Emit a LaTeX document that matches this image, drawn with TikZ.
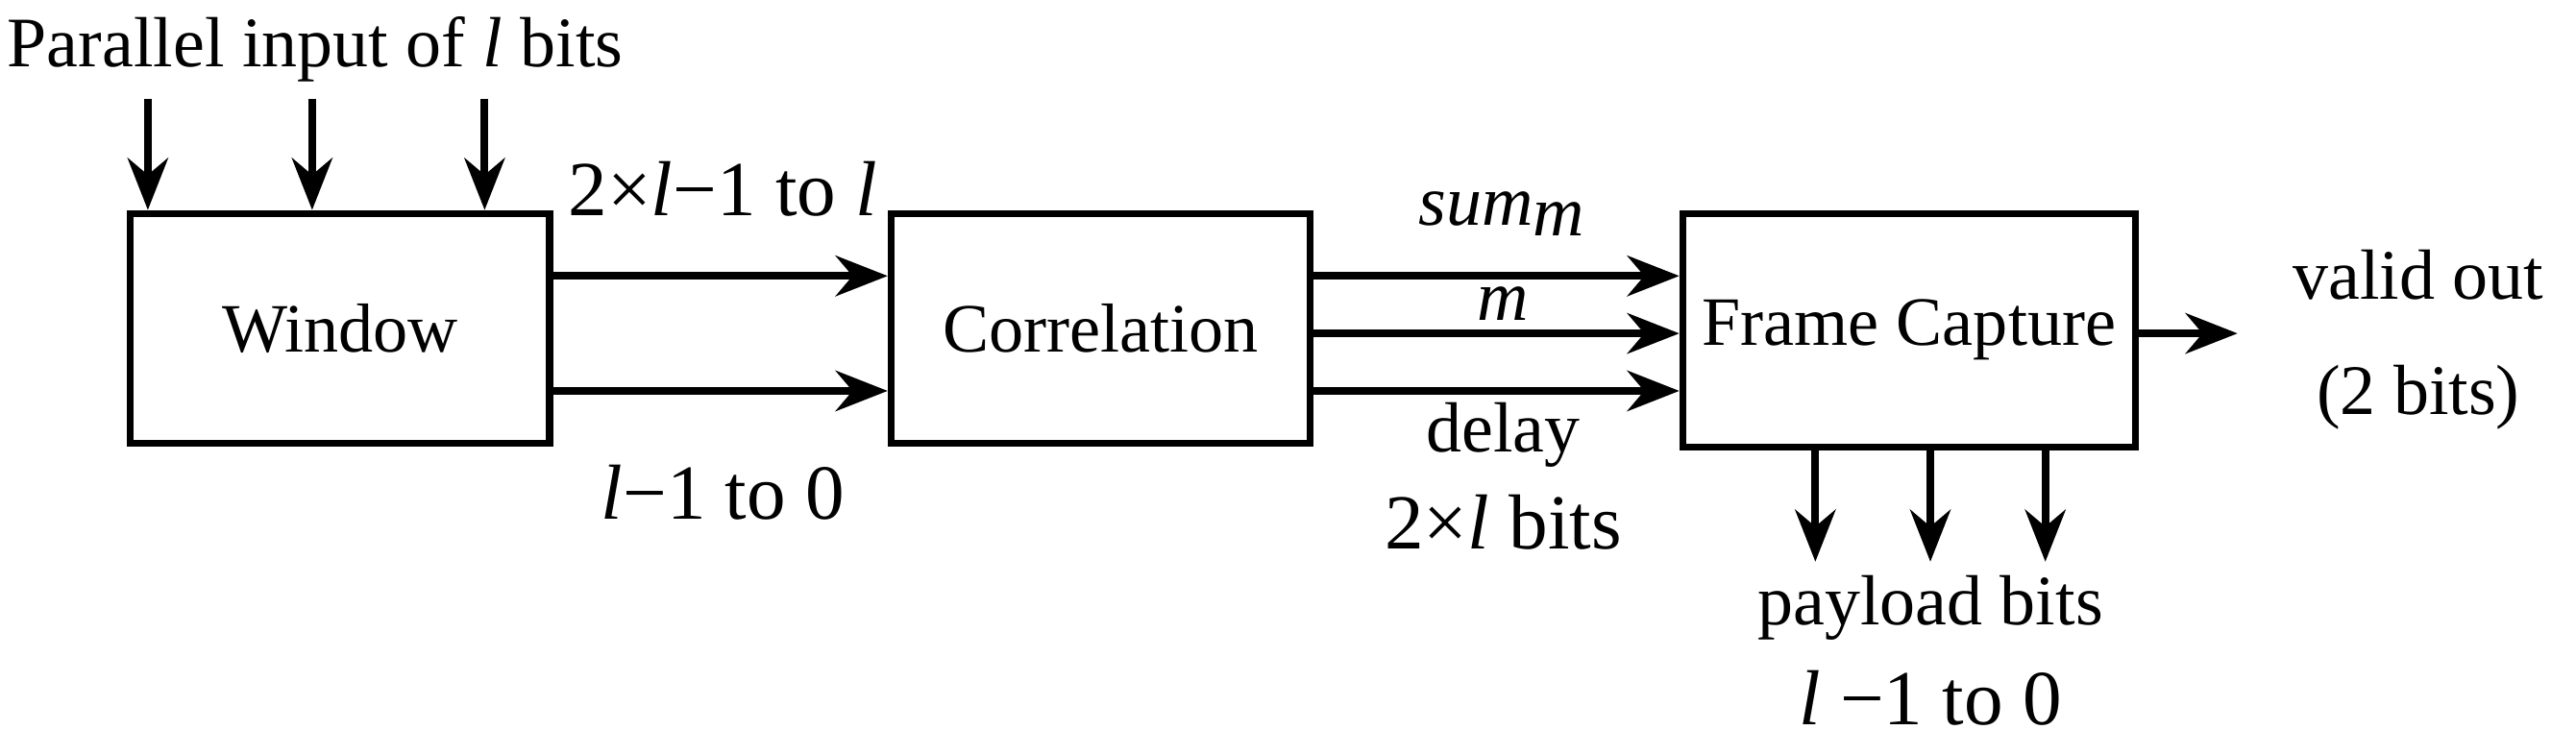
\documentclass[tikz,border=0pt]{standalone}
\usepackage{fontspec}
\setmainfont{Liberation Serif}
\usetikzlibrary{arrows.meta}
\begin{document}
\begin{tikzpicture}[x=0.01cm,y=-0.01cm,
  blk/.style={draw,line width=1.2pt,minimum width=2.55cm,minimum height=1.4cm,font=\fontsize{12}{14}\selectfont},
  arr/.style={-{Stealth[length=9pt,width=7pt]},line width=1.3pt},
  lbl/.style={font=\fontsize{13.5}{16}\selectfont,inner sep=0},
  sml/.style={font=\fontsize{12.3}{14}\selectfont,inner sep=0}]
\useasboundingbox (0,0) rectangle (1568,444);
\node[blk] (w) at (207,200) {Window};
\node[blk] (c) at (670,200) {Correlation};
\node[blk,minimum height=1.42cm] (f) at (1162,201) {Frame Capture};
\node[sml] (t) at (192,30) {Parallel input of \textit{l} bits};
\foreach \x/\n in {90/a,190/b,295/c}{\coordinate (i\n) at (\x,60);
  \draw[arr] (i\n) -- (i\n |- w.north);}
\draw[arr] (w.east |- 0,168) -- (c.west |- 0,168);
\draw[arr] (w.east |- 0,238) -- (c.west |- 0,238);
\node[lbl] (l1) at (440,115) {2×\textit{l}−1 to \textit{l}};
\node[lbl] (l2) at (440,300) {\textit{l}−1 to 0};
\foreach \y in {168,203,238}{\draw[arr] (c.east |- 0,\y) -- (f.west |- 0,\y);}
\node[sml] (s) at (915,130) {\textit{sum}$_{\textit{m}}$};
\node[sml] (m) at (915,185) {\textit{m}};
\node[sml] (d) at (915,265) {delay};
\node[lbl] (d2) at (915,318) {2×\textit{l} bits};
\coordinate (o) at (1362,203);
\draw[arr] (f.east |- o) -- (o);
\node[sml,align=center] (v) at (1472,207) {valid out\\[6pt](2 bits)};
\foreach \x/\n in {1105/a,1175/b,1245/c}{\coordinate (p\n) at (\x,342);
  \draw[arr] (p\n |- f.south) -- (p\n);}
\node[sml] (pl) at (1175,370) {payload bits};
\node[lbl] (pl2) at (1175,425) {\textit{l} −1 to 0};
\end{tikzpicture}
\end{document}
